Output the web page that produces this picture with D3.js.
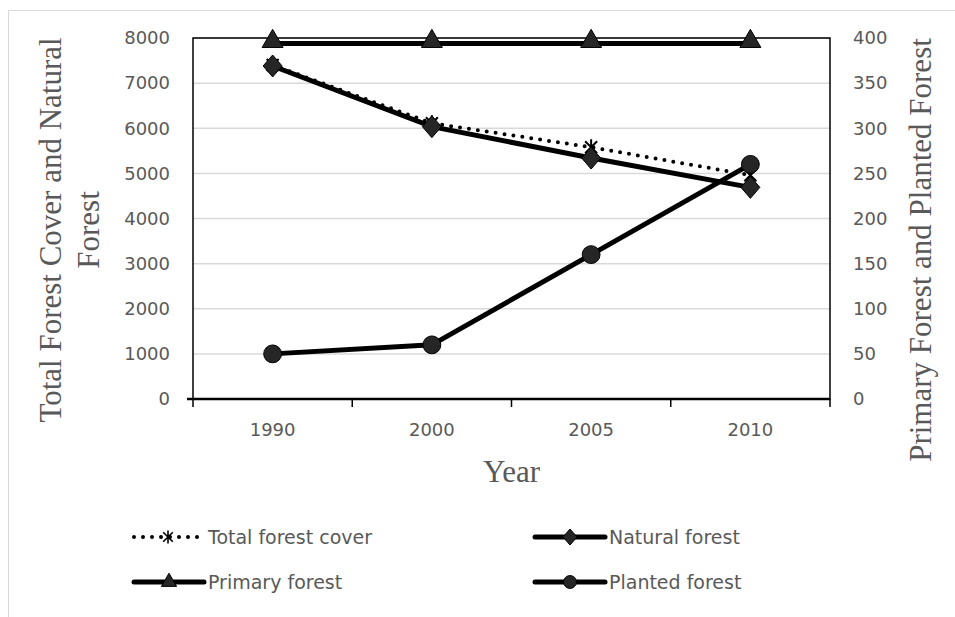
<!DOCTYPE html>
<html>
<head>
<meta charset="utf-8">
<script src="https://cdn.jsdelivr.net/npm/d3@7"></script>
<style>
  body { margin: 0; background: #fff; }
  .tick text { fill: #595959; font-family: "DejaVu Sans", sans-serif; font-size: 18px; }
  .title { fill: #595959; font-family: "Liberation Serif", "Times New Roman", serif; font-size: 31px; }
  .legend text { fill: #595959; font-family: "DejaVu Sans", sans-serif; font-size: 19px; }
</style>
</head>
<body>
<svg class="chart" width="955" height="617"></svg>
<script>
const years = ["1990", "2000", "2005", "2010"];
const totalCover = [7400, 6110, 5580, 4960];
const naturalForest = [7380, 6035, 5340, 4690];
const primaryForest = [394, 394, 394, 394];
const plantedForest = [50, 60, 160, 260];
const leftTicks = [0, 1000, 2000, 3000, 4000, 5000, 6000, 7000, 8000];
const rightTicks = [0, 50, 100, 150, 200, 250, 300, 350, 400];

function drawChart() {
    const svg = d3.select("svg.chart");
    const margin = { top: 38, right: 125, bottom: 218, left: 193 };
    const width = +svg.attr("width") - margin.left - margin.right;
    const height = +svg.attr("height") - margin.top - margin.bottom;

    // outer frame
    svg.append("path")
        .attr("d", "M8.5,617 V10.5 H955")
        .attr("fill", "none")
        .attr("stroke", "#d9d9d9")
        .attr("stroke-width", 1);

    const x = d3.scaleBand().domain(years).range([0, width]);
    const yLeft = d3.scaleLinear().domain([0, 8000]).range([height, 0]);
    const yRight = d3.scaleLinear().domain([0, 400]).range([height, 0]);

    const g = svg.append("g")
        .attr("transform", `translate(${margin.left}, ${margin.top})`);

    // gridlines
    g.selectAll(".grid")
        .data(leftTicks.slice(1))
        .enter().append("line")
        .attr("x1", 0).attr("x2", width)
        .attr("y1", d => yLeft(d)).attr("y2", d => yLeft(d))
        .attr("stroke", "#d9d9d9").attr("stroke-width", 1.5);

    // plot frame
    g.append("rect")
        .attr("width", width).attr("height", height)
        .attr("fill", "none").attr("stroke", "#000").attr("stroke-width", 1.5);

    const yAxisL = d3.axisLeft(yLeft).tickValues(leftTicks).tickFormat(d3.format("d"))
        .tickSize(0).tickPadding(23);
    g.append("g").call(yAxisL).call(a => a.select(".domain").remove());

    const yAxisR = d3.axisRight(yRight).tickValues(rightTicks).tickFormat(d3.format("d"))
        .tickSize(0).tickPadding(23);
    g.append("g").attr("transform", `translate(${width},0)`)
        .call(yAxisR).call(a => a.select(".domain").remove());

    // x axis with ticks at band edges
    const xAxis = d3.axisBottom(x).tickSize(0).tickPadding(24);
    g.append("g").attr("transform", `translate(0, ${height})`)
        .call(xAxis).call(a => a.select(".domain").remove());
    g.append("line")
        .attr("x1", -6).attr("x2", width).attr("y1", height).attr("y2", height)
        .attr("stroke", "#000").attr("stroke-width", 2.5);
    g.selectAll(".xtick")
        .data(years.map(d => x(d)).concat([width]))
        .enter().append("line")
        .attr("x1", d => d).attr("x2", d => d)
        .attr("y1", height).attr("y2", height + 8)
        .attr("stroke", "#000").attr("stroke-width", 1.5);

    const cx = i => x(years[i]) + x.bandwidth() / 2;

    const lineL = d3.line().x((d, i) => cx(i)).y(d => yLeft(d));
    const lineR = d3.line().x((d, i) => cx(i)).y(d => yRight(d));

    const markerFill = "#262626";
    const triangle = d3.symbol().type(d3.symbolTriangle).size(190);
    const diamondPath = "M0,-11 L9.5,0 L0,11 L-9.5,0 Z";
    const circle = d3.symbol().type(d3.symbolCircle).size(250);

    function star(sel) {
        sel.append("path")
            .attr("d", "M-6,-6 L6,6 M-6,6 L6,-6 M0,-8 V8")
            .attr("stroke", "#000").attr("stroke-width", 2).attr("fill", "none");
    }

    // total forest cover (dotted)
    g.append("path").datum(totalCover)
        .attr("d", lineL)
        .attr("fill", "none").attr("stroke", "#000").attr("stroke-width", 4)
        .attr("stroke-linecap", "round").attr("stroke-dasharray", "0 9");
    totalCover.forEach((v, i) => {
        g.append("g").attr("transform", `translate(${cx(i)},${yLeft(v)})`).call(star);
    });

    // natural forest
    g.append("path").datum(naturalForest)
        .attr("d", lineL)
        .attr("fill", "none").attr("stroke", "#000").attr("stroke-width", 5);
    g.selectAll(".nat").data(naturalForest).enter().append("path")
        .attr("transform", (d, i) => `translate(${cx(i)},${yLeft(d)})`)
        .attr("d", diamondPath).attr("fill", markerFill).attr("stroke", "#000");

    // primary forest
    g.append("path").datum(primaryForest)
        .attr("d", lineR)
        .attr("fill", "none").attr("stroke", "#000").attr("stroke-width", 5);
    g.selectAll(".pri").data(primaryForest).enter().append("path")
        .attr("transform", (d, i) => `translate(${cx(i)},${yRight(d) - 2})`)
        .attr("d", triangle).attr("fill", markerFill).attr("stroke", "#000");

    // planted forest
    g.append("path").datum(plantedForest)
        .attr("d", lineR)
        .attr("fill", "none").attr("stroke", "#000").attr("stroke-width", 5);
    g.selectAll(".pla").data(plantedForest).enter().append("path")
        .attr("transform", (d, i) => `translate(${cx(i)},${yRight(d)})`)
        .attr("d", circle).attr("fill", markerFill).attr("stroke", "#000");

    // axis titles
    svg.append("text").attr("class", "title")
        .attr("transform", "translate(61,230) rotate(-90)")
        .attr("text-anchor", "middle").text("Total Forest Cover and Natural");
    svg.append("text").attr("class", "title")
        .attr("transform", "translate(99,230) rotate(-90)")
        .attr("text-anchor", "middle").text("Forest");
    svg.append("text").attr("class", "title")
        .attr("transform", "translate(931,250) rotate(-90)")
        .attr("text-anchor", "middle").text("Primary Forest and Planted Forest");
    svg.append("text").attr("class", "title")
        .attr("x", margin.left + width / 2).attr("y", 482)
        .attr("text-anchor", "middle").text("Year");

    // legend
    const legendItems = [
        { name: "Total forest cover", x: 132, y: 537, kind: "star" },
        { name: "Natural forest", x: 533, y: 537, kind: "diamond" },
        { name: "Primary forest", x: 132, y: 582, kind: "triangle" },
        { name: "Planted forest", x: 533, y: 582, kind: "circle" }
    ];
    const lg = svg.append("g").attr("class", "legend");
    legendItems.forEach(it => {
        const item = lg.append("g").attr("transform", `translate(${it.x},${it.y})`);
        if (it.kind === "star") {
            item.append("line").attr("x1", 2).attr("x2", 70)
                .attr("stroke", "#000").attr("stroke-width", 4)
                .attr("stroke-linecap", "round").attr("stroke-dasharray", "0 9");
            item.append("g").attr("transform", "translate(36,0) scale(0.8)").call(star);
        } else {
            item.append("line").attr("x1", 2).attr("x2", 72)
                .attr("stroke", "#000").attr("stroke-width", 5).attr("stroke-linecap", "round");
            const symPath = it.kind === "diamond" ? "M0,-8 L7,0 L0,8 L-7,0 Z"
                : it.kind === "triangle" ? d3.symbol().type(d3.symbolTriangle).size(100)()
                : d3.symbol().type(d3.symbolCircle).size(130)();
            item.append("path").attr("transform", "translate(37,0)")
                .attr("d", symPath).attr("fill", markerFill).attr("stroke", "#000");
        }
        item.append("text").attr("x", 76).attr("y", 7).text(it.name);
    });
}

drawChart();
</script>
</body>
</html>
